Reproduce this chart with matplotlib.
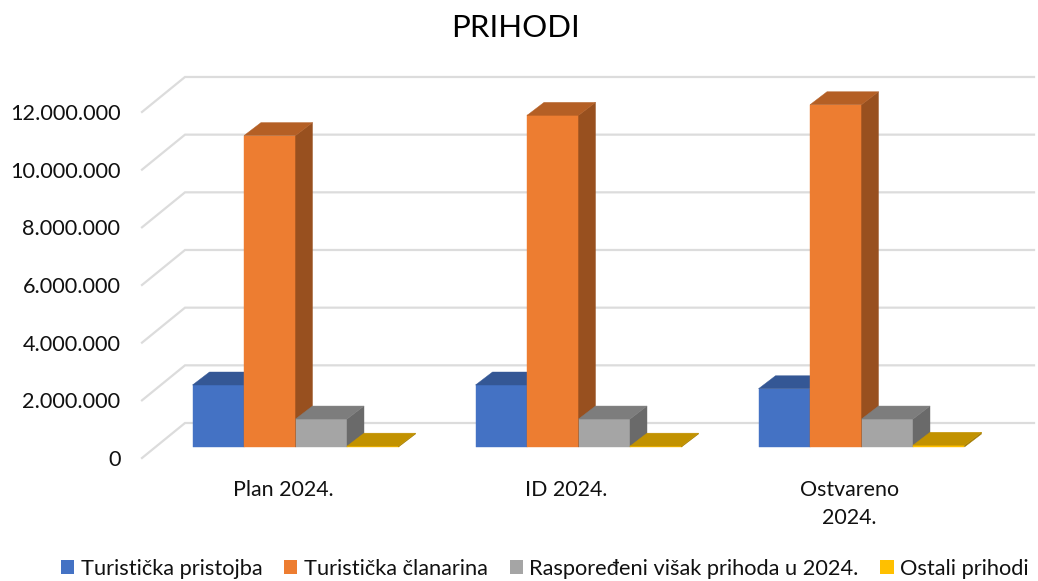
import matplotlib
matplotlib.use("Agg")
import matplotlib.pyplot as plt
from matplotlib.patches import Patch
import matplotlib.colors as mcolors

plt.rcParams['font.family'] = ['Lato', 'DejaVu Sans']

categories = ["Plan 2024.", "ID 2024.", "Ostvareno\n2024."]
series_names = ["Turistička pristojba", "Turistička članarina",
                "Raspoređeni višak prihoda u 2024.", "Ostali prihodi"]
pristojba = [2150000, 2150000, 2020000]
clanarina = [10800000, 11500000, 11870000]
visak = [970000, 970000, 970000]
ostali = [30000, 30000, 60000]
yticks = [0, 2000000, 4000000, 6000000, 8000000, 10000000, 12000000]
colors = ["#4472c4", "#ed7d31", "#a5a5a5", "#ffc000"]

W, H = 1038, 581
PX_X = 283.0          # piksela po kategoriji
PX_Y = 57.67 / 2e6    # piksela po jedinici

fig = plt.figure(figsize=(W / 100, H / 100), dpi=100)
ax = fig.add_axes([142 / W, 1 - 458 / H, (1034 - 142) / W, (458 - 78) / H])
ax.set_xlim(-0.5, -0.5 + (1034 - 142) / PX_X)
ax.set_ylim(0, (458 - 78) / PX_Y)
for s in ax.spines.values():
    s.set_visible(False)

# "3d" pod
floor_dx = 43 / PX_X
floor_dy = 35 / PX_Y
bar_dx = 17 / PX_X
bar_dy = 13 / PX_Y
shift_x = 12 / PX_X
shift_y = 11 / PX_Y
bar_w = 51.5 / PX_X

for v in yticks:
    ax.plot([-0.5, -0.5 + floor_dx, 2.652], [v, v + floor_dy, v + floor_dy],
            color="#dcdcdc", lw=1.6, clip_on=False, zorder=1, solid_joinstyle="miter")


def shade(c, f):
    r, g, b = mcolors.to_rgb(c)
    return (r * f, g * f, b * f)


def bar3d(x0, val, c):
    y0 = shift_y
    y1 = shift_y + val
    x1 = x0 + bar_w
    ax.fill([x0, x1, x1, x0], [y0, y0, y1, y1], color=c, lw=0.3, clip_on=False, zorder=3)
    ax.fill([x1, x1 + bar_dx, x1 + bar_dx, x1], [y0, y0 + bar_dy, y1 + bar_dy, y1],
            color=shade(c, 0.64), lw=0.3, clip_on=False, zorder=3)
    ax.fill([x0, x1, x1 + bar_dx, x0 + bar_dx], [y1, y1, y1 + bar_dy, y1 + bar_dy],
            color=shade(c, 0.76), lw=0.3, clip_on=False, zorder=3)


all_series = [pristojba, clanarina, visak, ostali]
for i in range(len(categories)):
    for j, vals in enumerate(all_series):
        bar3d(i + shift_x - 2 * bar_w + j * bar_w, vals[i], colors[j])

ax.set_yticks(yticks)
ax.set_yticklabels([f"{v:,}".replace(",", ".") for v in yticks], fontsize=15.6, color="#111111")
ax.set_xticks(range(len(categories)))
ax.set_xticklabels(categories, fontsize=15.4, color="#111111", linespacing=1.5)
ax.tick_params(axis="y", length=0, pad=15.5)
ax.tick_params(axis="x", length=0, pad=16)

fig.text(515 / W, 1 - 28 / H, "PRIHODI", fontsize=22.5, ha="center", va="center", color="#000000")

handles = [Patch(facecolor=c, lw=0, label=n) for c, n in zip(colors, series_names)]
fig.legend(handles=handles, loc="center", bbox_to_anchor=(545 / W, 1 - 569 / H), ncol=4,
           frameon=False, fontsize=15.7, handlelength=0.6, handleheight=0.6,
           handletextpad=0.3, columnspacing=1.0, labelcolor="#111111",
           borderpad=0, borderaxespad=0)

fig.savefig("out.png", dpi=100)
